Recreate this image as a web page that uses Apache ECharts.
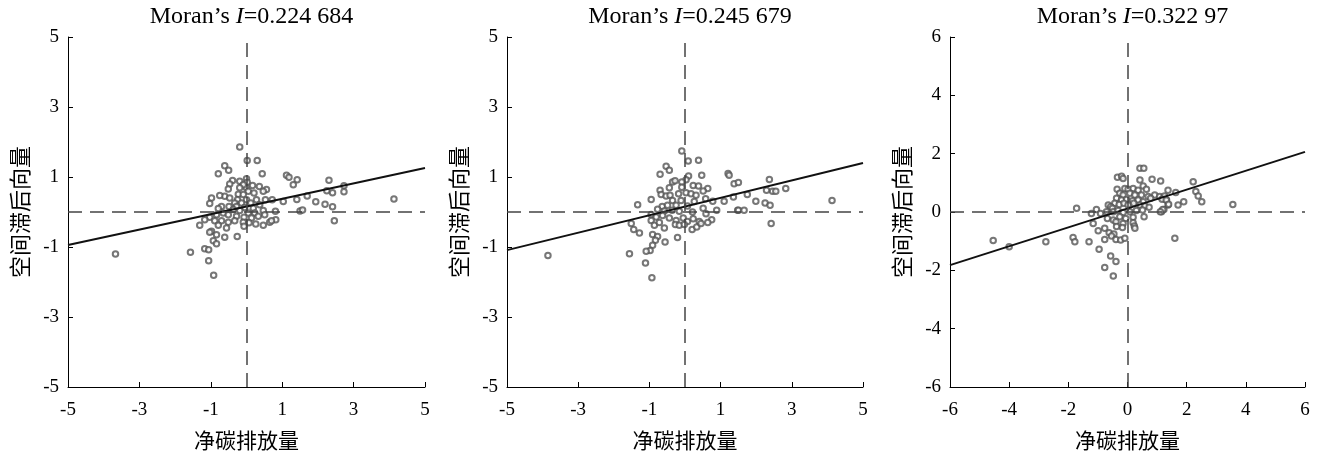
<!DOCTYPE html>
<html>
<head>
<meta charset="utf-8">
<script src="https://cdn.jsdelivr.net/npm/echarts@6/dist/echarts.min.js"></script>
<style>
  html, body { margin: 0; padding: 0; background: #fff; }
  #chart { width: 1317px; height: 458px; }
</style>
</head>
<body>
<div id="chart"></div>
<script>
// 三幅 Moran 散点图的数据
const titles = ['0.224 684', '0.245 679', '0.322 97'];
const xName = '净碳排放量';
const yName = '空间滞后向量';

const axisMin = [-5, -5, -6];
const axisMax = [5, 5, 6];

// 拟合线两端点
const fit1 = [[-5, -0.94], [5, 1.26]];
const fit2 = [[-5, -1.09], [5, 1.40]];
const fit3 = [[-6, -1.82], [6, 2.06]];

const points1 = [
  [-0.19, 1.86], [0.02, 1.47], [0.30, 1.47], [-0.61, 1.32], [-0.50, 1.19], [-0.79, 1.09], [0.44, 1.09],
  [0.0, 0.95], [0.02, 0.85], [-0.01, 0.70], [-0.19, 0.88], [-0.39, 0.90], [-0.47, 0.80], [-0.09, 0.78],
  [0.17, 0.76], [0.36, 0.73], [-0.19, 0.69], [-0.51, 0.66], [0.56, 0.64], [0.47, 0.59], [0.05, 0.59],
  [0.21, 0.54], [-0.23, 0.51], [-0.09, 0.50], [-0.61, 0.45], [-0.75, 0.47], [-0.47, 0.40], [-0.98, 0.40],
  [-1.03, 0.24], [-0.25, 0.35], [0.0, 0.35], [0.28, 0.35], [0.53, 0.35], [0.72, 0.35], [1.03, 0.30],
  [-0.33, 0.26], [-0.14, 0.26], [0.12, 0.26], [0.37, 0.21], [-0.70, 0.16], [-0.49, 0.16], [-0.28, 0.16],
  [-0.05, 0.13], [0.19, 0.11], [-0.79, 0.10], [-0.37, 0.07], [-0.19, 0.04], [0.47, 0.04], [0.81, 0.02],
  [0.05, -0.03], [0.23, -0.03], [-0.65, -0.03], [-0.84, -0.08], [-0.51, -0.08], [-0.28, -0.12],
  [-0.07, -0.15], [0.14, -0.17], [0.33, -0.12], [0.51, -0.08], [-1.03, -0.15], [-1.17, -0.22],
  [-0.89, -0.25], [-0.70, -0.25], [-0.51, -0.29], [-0.33, -0.25], [-0.09, -0.29], [0.07, -0.31],
  [0.26, -0.34], [0.47, -0.38], [0.65, -0.29], [0.82, -0.22], [0.70, -0.25], [-1.31, -0.38],
  [-0.79, -0.38], [-0.56, -0.46], [-0.07, -0.41], [-0.98, -0.55], [-1.03, -0.58], [-0.84, -0.65],
  [-0.61, -0.72], [-0.26, -0.70], [-0.93, -0.82], [-0.84, -0.91], [-1.17, -1.05], [-1.06, -1.08],
  [-1.57, -1.15], [-3.67, -1.20], [-1.06, -1.39], [-0.92, -1.81],
  [1.12, 1.05], [1.19, 0.99], [1.42, 0.92], [1.31, 0.78], [1.41, 0.36], [1.70, 0.46], [1.50, 0.03],
  [1.57, 0.06], [1.94, 0.29], [2.20, 0.22], [2.41, 0.15], [2.31, 0.91], [2.25, 0.61], [2.41, 0.55],
  [2.73, 0.75], [2.73, 0.58], [2.46, -0.25], [4.13, 0.37]
];

const points2 = [
  [-0.09, 1.74], [0.09, 1.46], [0.38, 1.48], [-0.53, 1.31], [-0.44, 1.19], [-0.70, 1.08], [0.47, 1.05],
  [0.10, 1.03], [0.03, 0.92], [-0.35, 0.86], [-0.28, 0.89], [-0.09, 0.86], [0.23, 0.76], [0.38, 0.74],
  [-0.44, 0.69], [-0.09, 0.71], [0.64, 0.67], [0.51, 0.60], [-0.70, 0.62], [-0.67, 0.50], [-0.18, 0.52],
  [0.03, 0.55], [0.17, 0.52], [0.31, 0.48], [-0.53, 0.46], [-0.42, 0.48], [-0.95, 0.36], [-0.35, 0.33],
  [-0.11, 0.33], [0.26, 0.30], [0.58, 0.38], [0.78, 0.31], [-1.33, 0.21], [-0.64, 0.16], [-0.49, 0.19],
  [-0.25, 0.19], [0.07, 0.17], [0.51, 0.11], [0.89, 0.05], [-0.77, 0.08], [-0.58, 0.03], [-0.36, 0.05],
  [-0.16, 0.02], [0.21, 0.0], [0.59, -0.05], [-0.95, -0.07], [-0.81, -0.14], [-0.63, -0.10],
  [-0.44, -0.17], [-0.25, -0.24], [-0.05, -0.17], [0.07, -0.27], [0.23, -0.19], [0.40, -0.27],
  [0.75, -0.22], [0.64, -0.30], [-1.51, -0.33], [-1.44, -0.50], [-1.28, -0.60], [-0.95, -0.24],
  [-0.86, -0.38], [-0.72, -0.30], [-0.58, -0.46], [-0.27, -0.36], [-0.16, -0.38], [-0.02, -0.36],
  [0.20, -0.50], [0.33, -0.43], [0.45, -0.33], [-0.91, -0.64], [-0.77, -0.70], [-0.83, -0.81],
  [-0.56, -0.86], [-0.21, -0.73], [-0.91, -0.95], [-0.98, -1.10], [-1.09, -1.12], [-1.56, -1.19],
  [-3.85, -1.24], [-1.11, -1.46], [-0.93, -1.88],
  [1.21, 1.10], [1.24, 1.05], [1.38, 0.81], [1.50, 0.84], [1.36, 0.43], [1.48, 0.05], [1.10, 0.31],
  [1.75, 0.50], [1.50, 0.05], [1.66, 0.05], [1.99, 0.31], [2.25, 0.26], [2.39, 0.19], [2.37, 0.93],
  [2.29, 0.62], [2.46, 0.59], [2.55, 0.59], [2.83, 0.67], [2.42, -0.33], [4.13, 0.33]
];

const points3 = [
  [0.42, 1.50], [0.55, 1.50], [-0.34, 1.19], [-0.20, 1.23], [-0.15, 1.15], [0.42, 1.10], [0.83, 1.12],
  [1.12, 1.06], [2.22, 1.04], [-0.35, 0.78], [-0.09, 0.81], [0.02, 0.78], [0.19, 0.81], [0.36, 0.75],
  [0.53, 0.89], [0.64, 0.78], [1.37, 0.75], [1.63, 0.67], [2.31, 0.70], [2.39, 0.55], [-0.26, 0.64],
  [-0.15, 0.58], [0.08, 0.64], [0.25, 0.58], [0.47, 0.58], [0.70, 0.53], [0.92, 0.58], [1.09, 0.53],
  [1.21, 0.47], [1.32, 0.41], [-0.37, 0.47], [-0.20, 0.41], [-0.03, 0.43], [0.17, 0.39], [0.36, 0.41],
  [0.53, 0.35], [0.78, 0.47], [-0.43, 0.30], [-0.28, 0.26], [-0.12, 0.30], [0.02, 0.24], [0.21, 0.30],
  [0.42, 0.24], [0.59, 0.21], [1.37, 0.24], [1.71, 0.24], [1.90, 0.35], [-0.65, 0.24], [-0.57, 0.18],
  [-0.51, 0.13], [-1.72, 0.13], [-1.05, 0.09], [-1.22, -0.05], [-0.91, -0.05], [-0.71, 0.01],
  [-0.48, 0.01], [-0.32, 0.05], [-0.15, -0.02], [0.08, 0.01], [0.30, 0.05], [0.51, 0.07], [0.73, 0.16],
  [1.15, 0.01], [1.23, 0.09], [-0.68, -0.22], [-0.48, -0.27], [-0.26, -0.16], [-0.06, -0.22],
  [0.19, -0.18], [0.56, -0.16], [-1.16, -0.39], [-0.39, -0.33], [-0.15, -0.39], [0.19, -0.37],
  [-0.77, -0.56], [-0.37, -0.50], [-0.17, -0.53], [0.23, -0.48], [0.25, -0.56], [-0.99, -0.64],
  [-0.62, -0.71], [-0.46, -0.75], [-0.54, -0.82], [-0.77, -0.94], [-0.39, -0.94], [-0.23, -0.96],
  [-0.09, -0.90], [-1.84, -0.87], [-1.78, -1.02], [-1.30, -1.02], [-4.54, -0.98], [-4.0, -1.19],
  [-2.76, -1.02], [-0.96, -1.28], [-0.57, -1.51], [-0.39, -1.70], [-0.77, -1.90], [-0.48, -2.19],
  [1.60, -0.90], [2.51, 0.35], [1.25, 0.55], [1.17, 0.44], [1.31, 0.41], [1.39, 0.27], [1.19, 0.09],
  [1.11, 0.01], [3.56, 0.26]
];

const allPoints = [points1, points2, points3];
const allFits = [fit1, fit2, fit3];

const SERIF = '"Liberation Serif", "Times New Roman", "Noto Sans CJK SC", serif';
const CJK = '"Noto Sans CJK SC", "Liberation Serif", sans-serif';

const grids = [
  { left: 68, width: 357 },
  { left: 507, width: 356 },
  { left: 950, width: 355 },
];

const chart = echarts.init(document.getElementById('chart'));

const option = {
  animation: false,
  backgroundColor: '#fff',
  title: grids.map((g, i) => ({
    text: '{a|Moran\u2019s }{b|I}{a|=' + titles[i] + '}',
    left: g.left + g.width / 2,
    top: 0,
    textAlign: 'center',
    textStyle: {
      fontWeight: 'normal',
      rich: {
        a: { fontFamily: SERIF, fontSize: 24, fontWeight: 'normal', color: '#000' },
        b: { fontFamily: SERIF, fontSize: 24, fontWeight: 'normal', fontStyle: 'italic', color: '#000' },
      },
    },
  })),
  grid: grids.map(g => ({ left: g.left, width: g.width, top: 37, height: 350 })),
  xAxis: grids.map((g, i) => ({
    gridIndex: i,
    type: 'value',
    min: axisMin[i],
    max: axisMax[i],
    interval: 2,
    name: xName,
    nameLocation: 'middle',
    nameGap: 43,
    nameTextStyle: { fontFamily: CJK, fontSize: 21, color: '#000' },
    axisLine: { onZero: false, lineStyle: { color: '#000', width: 1 } },
    axisTick: { inside: true, length: 5, lineStyle: { color: '#000' } },
    axisLabel: { fontFamily: SERIF, fontSize: 19, color: '#000', margin: 14 },
    splitLine: { show: false },
  })),
  yAxis: grids.map((g, i) => ({
    gridIndex: i,
    type: 'value',
    min: axisMin[i],
    max: axisMax[i],
    interval: 2,
    name: yName,
    nameLocation: 'middle',
    nameGap: 37,
    nameTextStyle: { fontFamily: CJK, fontSize: 22, color: '#000' },
    axisLine: { onZero: false, lineStyle: { color: '#000', width: 1 } },
    axisTick: { inside: true, length: 5, lineStyle: { color: '#000' } },
    axisLabel: { fontFamily: SERIF, fontSize: 19, color: '#000', margin: 9 },
    splitLine: { show: false },
  })),
  series: [],
};

allPoints.forEach((pts, i) => {
  option.series.push({
    type: 'scatter',
    xAxisIndex: i,
    yAxisIndex: i,
    data: pts,
    symbol: 'emptyCircle',
    symbolSize: 5.5,
    itemStyle: { color: '#555', borderColor: '#555', borderWidth: 0.8 },
    markLine: {
      silent: true,
      symbol: 'none',
      label: { show: false },
      lineStyle: { color: '#444', width: 1.5, type: [14, 8] },
      data: [{ xAxis: 0 }, { yAxis: 0 }],
    },
    z: 3,
  });
  option.series.push({
    type: 'line',
    xAxisIndex: i,
    yAxisIndex: i,
    data: allFits[i],
    symbol: 'none',
    lineStyle: { color: '#111', width: 2 },
    z: 4,
  });
});

chart.setOption(option);
</script>
</body>
</html>
